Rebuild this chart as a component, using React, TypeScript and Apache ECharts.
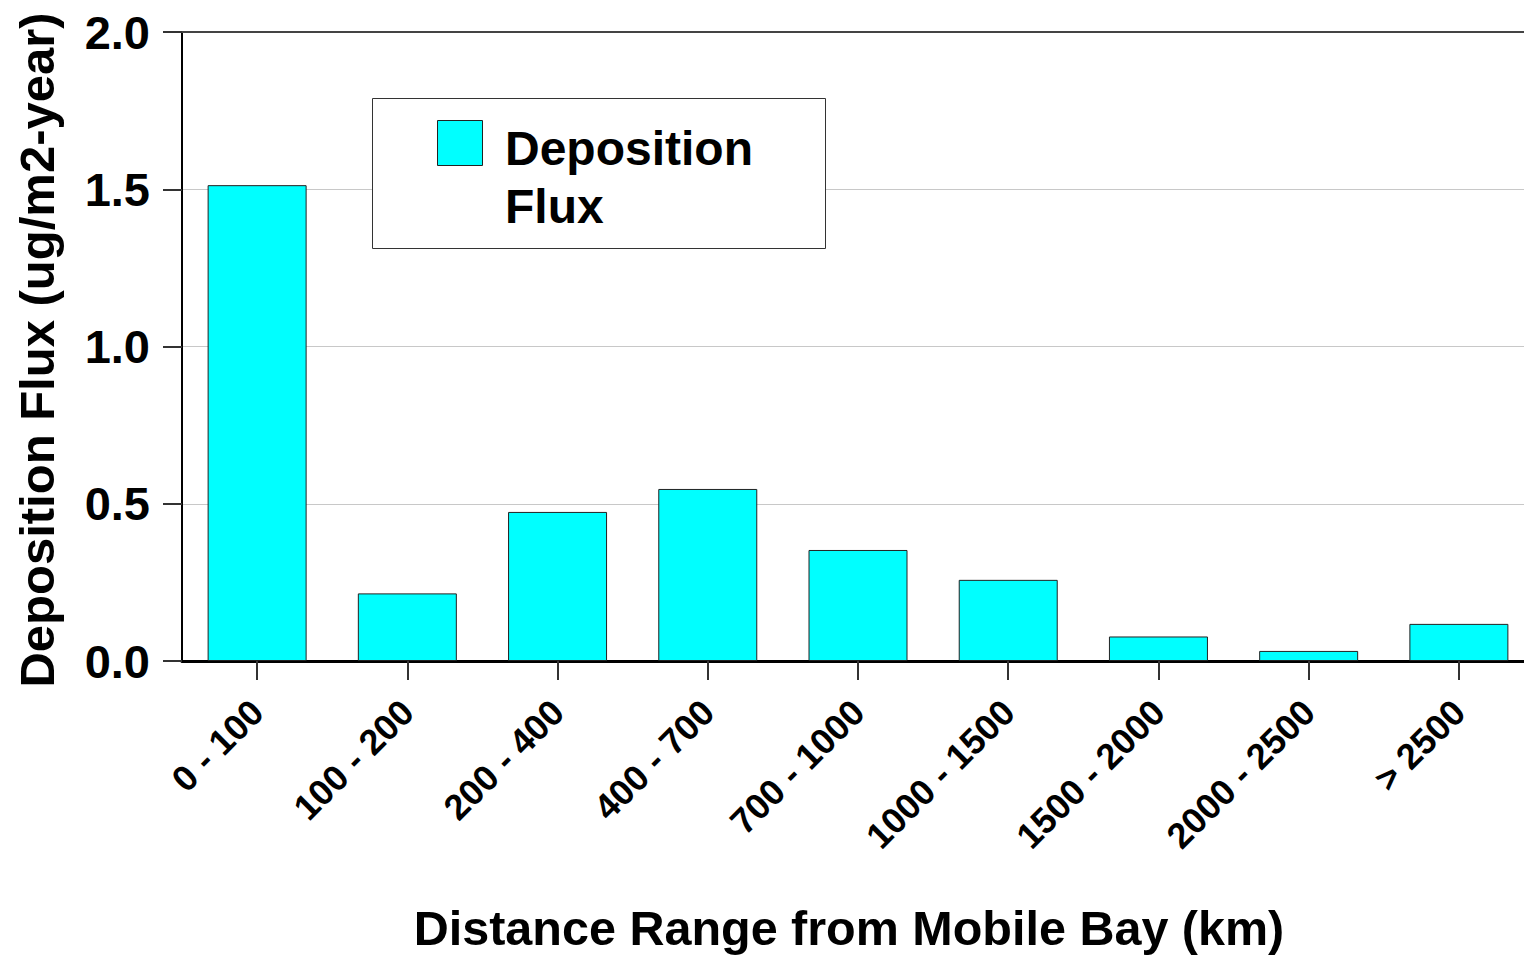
import React, { useEffect, useRef } from "react";
import * as echarts from "echarts";

const categories = [
  "0 - 100",
  "100 - 200",
  "200 - 400",
  "400 - 700",
  "700 - 1000",
  "1000 - 1500",
  "1500 - 2000",
  "2000 - 2500",
  "> 2500",
];
const fluxValues = [1.513, 0.215, 0.474, 0.547, 0.353, 0.258, 0.078, 0.032, 0.118];
const seriesName = "Deposition Flux";
const legendLines = ["Deposition", "Flux"];
const yTitle = "Deposition Flux (ug/m2-year)";
const xTitle = "Distance Range from Mobile Bay (km)";

const FONT = "'Liberation Sans', Arial, Helvetica, sans-serif";
const CYAN = "#00FFFF";

export default function App() {
  const ref = useRef<HTMLDivElement>(null);

  useEffect(() => {
    if (!ref.current) return;
    const chart = echarts.init(ref.current, undefined, { renderer: "svg" });
    chart.setOption({
      animation: false,
      backgroundColor: "#ffffff",
      textStyle: { fontFamily: FONT },
      grid: { left: 182, top: 32, width: 1352, height: 629, containLabel: false },
      xAxis: [
        {
          type: "category",
          data: categories,
          position: "bottom",
          axisLine: { show: true, lineStyle: { color: "#000", width: 3 } },
          axisTick: {
            show: true,
            alignWithLabel: true,
            length: 19,
            lineStyle: { color: "#333", width: 2 },
          },
          axisLabel: {
            interval: 0,
            rotate: 45,
            margin: 45,
            fontSize: 36,
            fontWeight: "bold",
            color: "#000",
            fontFamily: FONT,
          },
          splitLine: { show: false },
        },
        {
          type: "category",
          data: categories,
          position: "top",
          axisLine: { show: true, lineStyle: { color: "#444", width: 2 } },
          axisTick: { show: false },
          axisLabel: { show: false },
          splitLine: { show: false },
        },
      ],
      yAxis: {
        type: "value",
        min: 0,
        max: 2,
        interval: 0.5,
        axisLine: { show: true, lineStyle: { color: "#000", width: 2 } },
        axisTick: { show: true, length: 19, lineStyle: { color: "#333", width: 2 } },
        axisLabel: {
          margin: 32,
          fontSize: 47,
          fontWeight: "bold",
          color: "#000",
          fontFamily: FONT,
          formatter: (v: number) => v.toFixed(1),
        },
        splitLine: { show: true, lineStyle: { color: "#c8c8c8", width: 1 } },
      },
      series: [
        {
          name: seriesName,
          type: "bar",
          xAxisIndex: 0,
          data: fluxValues,
          barWidth: 99,
          itemStyle: { color: CYAN, borderColor: "#222", borderWidth: 1 },
        },
      ],
      graphic: [
        {
          type: "text",
          x: 37,
          y: 350,
          rotation: Math.PI / 2,
          style: {
            text: yTitle,
            fontSize: 49,
            fontWeight: "bold",
            fontFamily: FONT,
            fill: "#000",
            align: "center",
            verticalAlign: "middle",
          },
        },
        {
          type: "text",
          x: 849,
          y: 928,
          style: {
            text: xTitle,
            fontSize: 48.5,
            fontWeight: "bold",
            fontFamily: FONT,
            fill: "#000",
            align: "center",
            verticalAlign: "middle",
          },
        },
        {
          type: "rect",
          shape: { x: 372.5, y: 98.5, width: 453, height: 150 },
          style: { fill: "#fff", stroke: "#333", lineWidth: 1 },
          z: 10,
        },
        {
          type: "rect",
          shape: { x: 437.5, y: 120.5, width: 45, height: 45 },
          style: { fill: CYAN, stroke: "#222", lineWidth: 1 },
          z: 11,
        },
        {
          type: "text",
          x: 505,
          y: 148,
          z: 11,
          style: {
            text: legendLines[0],
            fontSize: 48,
            fontWeight: "bold",
            fontFamily: FONT,
            fill: "#000",
            align: "left",
            verticalAlign: "middle",
          },
        },
        {
          type: "text",
          x: 505,
          y: 206,
          z: 11,
          style: {
            text: legendLines[1],
            fontSize: 48,
            fontWeight: "bold",
            fontFamily: FONT,
            fill: "#000",
            align: "left",
            verticalAlign: "middle",
          },
        },
      ],
    });
    return () => chart.dispose();
  }, []);

  return (
    <div
      style={{
        position: "absolute",
        left: 0,
        top: 0,
        width: 1524,
        height: 957,
        overflow: "hidden",
      }}
    >
      <div ref={ref} style={{ width: 1544, height: 957 }} />
    </div>
  );
}
